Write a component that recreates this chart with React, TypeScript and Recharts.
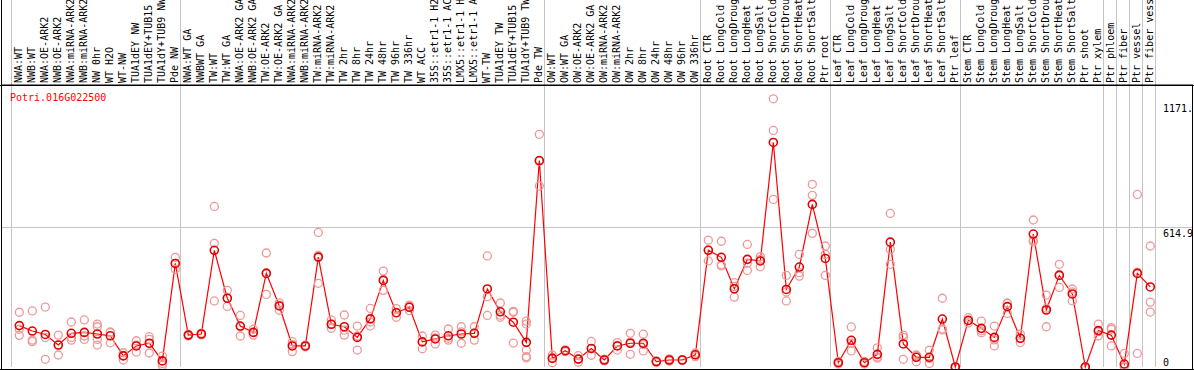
import { ComposedChart, Line, XAxis, YAxis, ReferenceLine } from 'recharts';

const geneName = 'Potri.016G022500';

const categories = [
  'NWA:WT', 'NWB:WT', 'NWA:OE-ARK2', 'NWB:OE-ARK2', 'NWA:miRNA-ARK2', 'NWB:miRNA-ARK2', 'NW 0hr',
  'WT H2O', 'WT-NW', 'TUA1dEY NW', 'TUA1dEY+TUB15', 'TUA1dY+TUB9 NW', 'Pde NW',
  'NWA:WT GA', 'NWBWT GA', 'TW:WT', 'TW:WT GA', 'NWA:OE-ARK2 GA', 'NWB:OE-ARK2 GA', 'TW:OE-ARK2',
  'TW:OE-ARK2 GA', 'NWA:miRNA-ARK2', 'NWB:miRNA-ARK2', 'TW:miRNA-ARK2', 'TW:miRNA-ARK2', 'TW 2hr',
  'TW 8hr', 'TW 24hr', 'TW 48hr', 'TW 96hr', 'TW 336hr', 'WT ACC', '35S::etr1-1 H2', '35S::etr1-1 AC',
  'LMX5::etr1-1 H', 'LMX5::etr1-1 A', 'WT-TW', 'TUA1dEY TW', 'TUA1dEY+TUB15', 'TUA1dY+TUB9 TW', 'Pde TW',
  'OW:WT', 'OW:WT GA', 'OW:OE-ARK2', 'OW:OE-ARK2 GA', 'OW:miRNA-ARK2', 'OW:miRNA-ARK2', 'OW 2hr',
  'OW 8hr', 'OW 24hr', 'OW 48hr', 'OW 96hr', 'OW 336hr',
  'Root CTR', 'Root LongCold', 'Root LongDroug', 'Root LongHeat', 'Root LongSalt', 'Root ShortCold',
  'Root ShortDrou', 'Root ShortHeat', 'Root ShortSalt', 'Ptr root',
  'Leaf CTR', 'Leaf LongCold', 'Leaf LongDroug', 'Leaf LongHeat', 'Leaf LongSalt', 'Leaf ShortCold',
  'Leaf ShortDrou', 'Leaf ShortHeat', 'Leaf ShortSalt', 'Ptr leaf',
  'Stem CTR', 'Stem LongCold', 'Stem LongDroug', 'Stem LongHeat', 'Stem LongSalt', 'Stem ShortCold',
  'Stem ShortDrou', 'Stem ShortHeat', 'Stem ShortSalt', 'Ptr shoot', 'Ptr xylem',
  'Ptr phloem', 'Ptr fiber', 'Ptr vessel', 'Ptr fiber vess',
];

const means = [
  183, 159, 144, 97, 149, 153, 146, 138, 49, 93, 105, 27, 458,
  141, 146, 516, 304, 181, 153, 414, 270, 93, 93, 486, 189, 178, 131, 213, 383, 240, 264, 111,
  124, 138, 146, 149, 345, 244, 198, 109, 913,
  38, 72, 35, 82, 31, 93, 105, 105, 24, 31, 31, 54,
  516, 485, 346, 476, 469, 993, 343, 442, 719, 480,
  19, 118, 19, 56, 552, 102, 43, 43, 212, 0,
  206, 171, 131, 267, 127, 588, 252, 405, 323, 0, 161,
  141, 13, 414, 354,
];

const replicates = [
  [242, 167, 140], [248, 119, 112], [265, 131, 34], [141, 97, 53], [199, 131, 119],
  [208, 137, 122], [190, 178, 122, 97], [155, 152, 107], [63, 52, 31], [116, 97, 66],
  [134, 122, 62], [48, 16, 7], [485, 458, 432],
  [145, 141, 137], [150, 146, 142], [710, 547, 292], [339, 305, 268], [228, 178, 137],
  [167, 153, 141], [504, 417, 321], [284, 274, 251], [112, 99, 68], [97, 93, 89],
  [595, 493, 370], [208, 189, 171], [230, 163, 141], [181, 137, 75], [259, 199, 181],
  [424, 386, 339], [258, 240, 220], [274, 268, 249], [137, 113, 81], [141, 129, 102],
  [168, 127, 119], [178, 155, 105], [178, 150, 119], [491, 311, 228], [283, 229, 220],
  [246, 242, 106], [203, 190, 75, 46, 40], [1029, 910, 800],
  [53, 42, 19], [76, 72, 68], [50, 35, 21], [113, 81, 52], [35, 31, 27], [108, 96, 75],
  [149, 110, 56], [145, 99, 71], [27, 24, 20], [36, 31, 26], [33, 31, 29], [62, 54, 46],
  [561, 518, 469], [556, 452, 447], [373, 356, 309], [542, 459, 427], [488, 476, 443],
  [1186, 1046, 741], [405, 332, 292], [498, 417, 402], [808, 759, 591], [535, 498, 405],
  [25, 19, 13], [177, 106, 71], [25, 19, 13], [85, 44, 39], [679, 520, 454],
  [141, 131, 34], [53, 50, 23], [75, 38, 16], [304, 168, 164], [0, 0, 0],
  [218, 206, 195], [203, 160, 152], [181, 120, 93], [283, 281, 237], [146, 127, 108],
  [650, 561, 554], [318, 260, 178], [454, 409, 352], [345, 332, 292], [0, 0, 0],
  [190, 156, 137],
  [174, 167, 93], [60, 2, 0], [763, 419, 60], [535, 287, 243],
];

// index where each tissue group begins (last entry closes the final group)
const groupStarts = [0, 13, 41, 53, 63, 73, 84, 85, 86, 87, 88];

const yTickValues = [1171, 614.9, 0];
const yTickLabels = ['1171.', '614.9', '0'];

const MONO = '"DejaVu Sans Mono", "Liberation Mono", monospace';
const POINT_OFFSET = 0.64;
const X_DOMAIN: [number, number] = [-10 / 13, categories.length + 38 / 13];
const Y_DOMAIN: [number, number] = [0, 1247];
const MAX_REPS = 5;

const chartData = categories.map((name, i) => {
  const row: Record<string, number | string> = { x: i + POINT_OFFSET, name, mean: means[i] };
  replicates[i].forEach((v, k) => {
    row[`r${k}`] = v;
  });
  return row;
});

const tickPositions = categories.map((_, i) => i + POINT_OFFSET);

function CategoryTick(props: { x?: number; y?: number; payload?: { value: number } }) {
  const { x = 0, y = 0, payload } = props;
  if (!payload) return null;
  const label = categories[Math.floor(payload.value)];
  const tx = x + 3;
  return (
    <text
      x={tx}
      y={y}
      transform={`rotate(-90, ${tx}, ${y})`}
      textAnchor="start"
      fontFamily={MONO}
      fontSize={10}
      fill="#000"
    >
      {label}
    </text>
  );
}

function YTickLabel(props: { viewBox?: { x: number; y: number; width: number }; text: string; below: boolean }) {
  if (!props.viewBox) return null;
  const { x, y, width } = props.viewBox;
  return (
    <text
      x={x + width - 30}
      y={props.below ? y + 9.5 : y - 1}
      fontFamily={MONO}
      fontSize={10}
      fill="#000"
    >
      {props.text}
    </text>
  );
}

function GroupSeparator(props: { x1?: number; x2?: number; y1?: number; y2?: number }) {
  const { x1 = 0, x2 = 0, y1 = 0, y2 = 0 } = props;
  return (
    <line
      x1={x1}
      x2={x2}
      y1={0}
      y2={Math.max(y1, y2)}
      stroke="#c4c4c4"
      strokeWidth={1}
      shapeRendering="crispEdges"
    />
  );
}

function renderRepDot(props: { cx?: number | null; cy?: number | null; index?: number; dataKey?: string }) {
  if (props.cx == null || props.cy == null) return <g key={`${props.dataKey}-${props.index}`} />;
  return (
    <circle
      key={`${props.dataKey}-${props.index}`}
      cx={props.cx}
      cy={props.cy}
      r={4}
      fill="none"
      stroke="#ee9898"
      strokeWidth={1.3}
    />
  );
}

function renderMeanDot(props: { cx?: number | null; cy?: number | null; index?: number }) {
  if (props.cx == null || props.cy == null) return <g key={`m-${props.index}`} />;
  return (
    <circle
      key={`m-${props.index}`}
      cx={props.cx}
      cy={props.cy}
      r={4}
      fill="none"
      stroke="#e00000"
      strokeWidth={1.6}
    />
  );
}

export default function App() {
  return (
    <div style={{ position: 'absolute', left: 0, top: 0, width: 1194, height: 370, background: '#fff' }}>
      <ComposedChart
        width={1194}
        height={370}
        data={chartData}
        margin={{ top: 0, right: 1, bottom: 3, left: 1 }}
      >
        <XAxis
          xAxisId={0}
          type="number"
          dataKey="x"
          orientation="top"
          height={85}
          domain={X_DOMAIN}
          ticks={tickPositions}
          interval={0}
          tick={<CategoryTick />}
          tickLine={false}
          tickSize={0}
          tickMargin={2}
          axisLine={{ stroke: '#000', strokeWidth: 1 }}
        />
        <YAxis yAxisId={0} type="number" domain={Y_DOMAIN} hide />

        {groupStarts.map((b) => (
          <ReferenceLine key={`sep-${b}`} x={b} stroke="#c4c4c4" shape={<GroupSeparator />} />
        ))}

        {yTickValues.map((v, i) => (
          <ReferenceLine
            key={`yt-${v}`}
            y={v}
            stroke={v === 614.9 ? '#c4c4c4' : 'none'}
            shapeRendering="crispEdges"
            label={<YTickLabel text={yTickLabels[i]} below={v !== 0} />}
          />
        ))}

        {Array.from({ length: MAX_REPS }, (_, k) => (
          <Line
            key={`rep-${k}`}
            dataKey={`r${k}`}
            stroke="none"
            dot={renderRepDot}
            activeDot={false}
            isAnimationActive={false}
            connectNulls={false}
          />
        ))}

        <Line
          dataKey="mean"
          stroke="#ff0000"
          strokeWidth={1.2}
          dot={renderMeanDot}
          activeDot={false}
          isAnimationActive={false}
        />
      </ComposedChart>

      <svg
        width={1194}
        height={370}
        style={{ position: 'absolute', left: 0, top: 0, pointerEvents: 'none' }}
      >
        <text x={10} y={100.5} fontFamily={MONO} fontSize={10} fill="#ff0000">
          {geneName}
        </text>
        <line x1={0} x2={1194} y1={85.5} y2={85.5} stroke="#000" />
        <line x1={1.5} x2={1.5} y1={0} y2={370} stroke="#000" />
        <line x1={1192.5} x2={1192.5} y1={85} y2={370} stroke="#000" />
        <line x1={0} x2={1194} y1={369.5} y2={369.5} stroke="#000" />
      </svg>
    </div>
  );
}
